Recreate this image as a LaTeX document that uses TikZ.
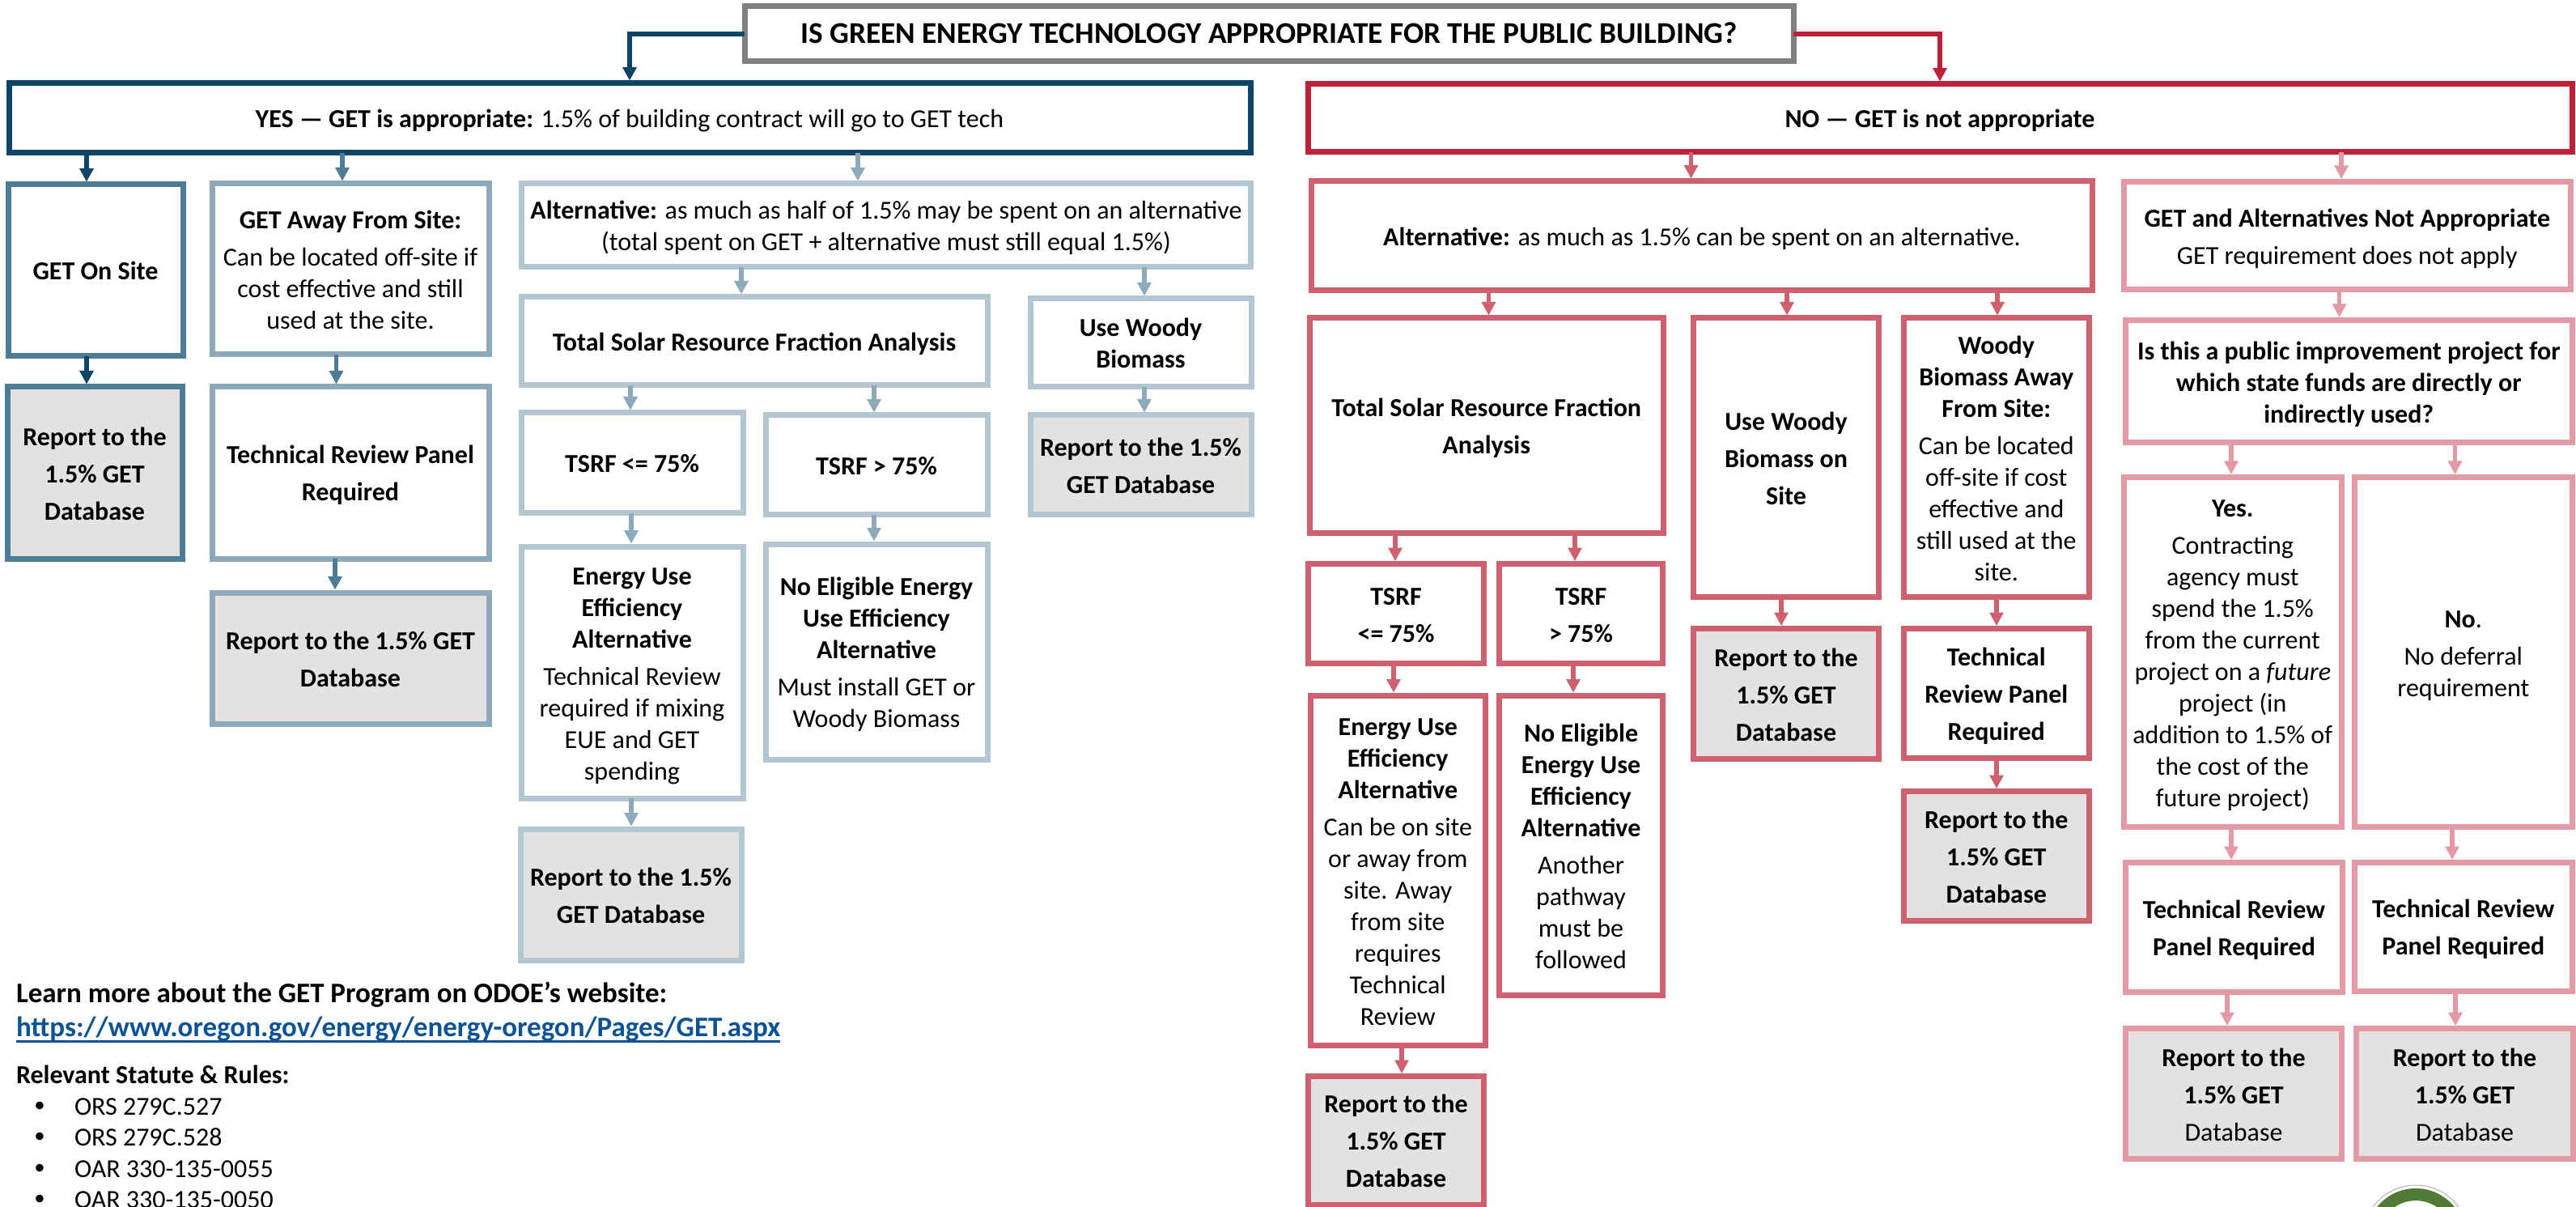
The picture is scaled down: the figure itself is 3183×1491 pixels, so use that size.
\documentclass[tikz,border=0pt]{standalone}
\usepackage{fontspec}
\setmainfont{Carlito}
\usetikzlibrary{arrows.meta}
\definecolor{bA}{HTML}{0E4468}
\definecolor{bB}{HTML}{4E7B96}
\definecolor{bC}{HTML}{8DA9BA}
\definecolor{bD}{HTML}{B3C7D2}
\definecolor{rA}{HTML}{BD2038}
\definecolor{rB}{HTML}{CF6070}
\definecolor{rC}{HTML}{E39AA5}
\definecolor{tg}{HTML}{808080}
\definecolor{gf}{HTML}{E3E2E0}
\definecolor{lk}{HTML}{0B5394}
\definecolor{lg}{HTML}{4F7B37}
\newcommand{\st}{\rule{0pt}{9.2pt}}
\tikzset{
  x=0.3pt,y=-0.3pt,
  sz/.style 2 args={minimum width=#1*0.3pt,minimum height=#2*0.3pt},
  tight/.style={font=\fontsize{9.6}{11.7}\selectfont},
  loose/.style={font=\fontsize{9.6}{13.8}\selectfont},
  bx/.style={draw=#1,fill=white,line width=2.1pt,inner sep=0pt,outer sep=0pt,align=center,text=black,tight,
    execute at end node={\rule[-2pt]{0pt}{2pt}}},
  rp/.style={bx=#1,fill=gf,loose},
  ar/.style={draw=#1,line width=1.6pt,shorten >=1pt,-{Triangle[width=5pt,length=5pt]}},
  tx/.style={inner sep=0pt,outer sep=0pt,anchor=west,text=black,tight},
}
\begin{document}
\begin{tikzpicture}
\clip (0,0) rectangle (3183,1491);
\fill[white] (0,0) rectangle (3183,1491);
% top
\node[bx=tg,sz={1296}{68},font=\fontsize{11.2}{13.6}\selectfont] (title) at (1568,42) {\st\textbf{IS GREEN ENERGY TECHNOLOGY APPROPRIATE FOR THE PUBLIC BUILDING?}};
\node[bx=bA,sz={1534}{86}] (yes) at (778,146) {\st\textbf{YES — GET is appropriate:} 1.5\% of building contract will go to GET tech};
\node[bx=rA,sz={1562}{84}] (no) at (2397,146) {\st\textbf{NO — GET is not appropriate}};
% blue left
\node[bx=bB,sz={216}{212}] (onsite) at (118,334) {\st\textbf{GET On Site}};
\node[rp=bB,sz={216}{212}] (rep1) at (117,584) {\st\textbf{Report to the}\\\textbf{1.5\% GET}\\\textbf{Database}};
\node[bx=bC,sz={342}{211}] (away) at (433,332.5) {\st\textbf{GET Away From Site:}\\[2.1pt]Can be located off-site if\\cost effective and still\\used at the site.};
\node[bx=bC,sz={342}{212},loose] (tech1) at (433,584) {\st\textbf{Technical Review Panel}\\\textbf{Required}};
\node[rp=bC,sz={342}{162}] (rep2) at (433,813) {\st\textbf{Report to the 1.5\% GET}\\\textbf{Database}};
% blue right
\node[bx=bD,sz={901}{103}] (alt) at (1095,278.5) {\st\textbf{Alternative:} as much as half of 1.5\% may be spent on an alternative\\(total spent on GET + alternative must still equal 1.5\%)};
\node[bx=bD,sz={576}{109}] (tsrf) at (932,421.5) {\st\textbf{Total Solar Resource Fraction Analysis}};
\node[bx=bD,sz={273}{109}] (wood) at (1409.5,423.5) {\st\textbf{Use Woody}\\\textbf{Biomass}};
\node[rp=bD,sz={273}{123}] (rep5) at (1409.5,574.5) {\st\textbf{Report to the 1.5\%}\\\textbf{GET Database}};
\node[bx=bD,sz={274}{124}] (le) at (781,572) {\st\textbf{TSRF <= 75\%}};
\node[bx=bD,sz={274}{123}] (gt) at (1083,574.5) {\st\textbf{TSRF > 75\%}};
\node[bx=bD,sz={274}{311}] (eue) at (781,830.5) {\st\textbf{Energy Use}\\\textbf{Efficiency}\\\textbf{Alternative}\\[2.1pt]Technical Review\\required if mixing\\EUE and GET\\spending};
\node[bx=bD,sz={274}{266}] (noel) at (1083,805) {\st\textbf{No Eligible Energy}\\\textbf{Use Efficiency}\\\textbf{Alternative}\\[2.1pt]Must install GET or\\Woody Biomass};
\node[rp=bD,sz={273}{162}] (rep3) at (779.5,1105) {\st\textbf{Report to the 1.5\%}\\\textbf{GET Database}};
% red
\node[bx=rB,sz={965}{135}] (ralt) at (2103,291.5) {\st\textbf{Alternative:} as much as 1.5\% can be spent on an alternative.};
\node[bx=rB,sz={436.5}{266},loose] (rtsrf) at (1836.75,526) {\st\textbf{Total Solar Resource Fraction}\\\textbf{Analysis}};
\node[bx=rB,sz={229}{344.5},loose] (rwood) at (2207,565.25) {\st\textbf{Use Woody}\\\textbf{Biomass on}\\\textbf{Site}};
\node[bx=rB,sz={229.5}{344.5}] (raway) at (2466.75,565.25) {\st\textbf{Woody}\\\textbf{Biomass Away}\\\textbf{From Site:}\\[2.1pt]Can be located\\off-site if cost\\effective and\\still used at the\\site.};
\node[rp=rB,sz={229}{161}] (rrep2) at (2207,857) {\st\textbf{Report to the}\\\textbf{1.5\% GET}\\\textbf{Database}};
\node[bx=rB,sz={229.5}{160},loose] (rtech) at (2466.75,856.5) {\st\textbf{Technical}\\\textbf{Review Panel}\\\textbf{Required}};
\node[rp=rB,sz={229.5}{160}] (rrep3) at (2466.75,1057.5) {\st\textbf{Report to the}\\\textbf{1.5\% GET}\\\textbf{Database}};
\node[bx=rB,sz={217}{123},loose] (rle) at (1725,758) {\st\textbf{TSRF}\\\textbf{<= 75\%}};
\node[bx=rB,sz={202}{123},loose] (rgt) at (1953.5,758) {\st\textbf{TSRF}\\\textbf{> 75\%}};
\node[bx=rB,sz={216.5}{432.5}] (reue) at (1727.25,1075.25) {\st\textbf{Energy Use}\\\textbf{Efficiency}\\\textbf{Alternative}\\[2.1pt]Can be on site\\or away from\\site. Away\\from site\\requires\\Technical\\Review};
\node[bx=rB,sz={202}{370.5}] (rnoel) at (1953.5,1044.25) {\st\textbf{No Eligible}\\\textbf{Energy Use}\\\textbf{Efficiency}\\\textbf{Alternative}\\[2.1pt]Another\\pathway\\must be\\followed};
\node[rp=rB,sz={217}{158.5}] (rrep1) at (1725,1408.75) {\st\textbf{Report to the}\\\textbf{1.5\% GET}\\\textbf{Database}};
% pink
\node[bx=rC,sz={551.5}{133.5},loose] (nap) at (2900.25,291.25) {\st\textbf{GET and Alternatives Not Appropriate}\\GET requirement does not apply};
\node[bx=rC,sz={551.5}{151.5}] (isp) at (2902.25,471.25) {\st\textbf{Is this a public improvement project for}\\\textbf{which state funds are directly or}\\\textbf{indirectly used?}};
\node[bx=rC,sz={268.5}{432}] (pyes) at (2758.75,805.5) {\st\textbf{Yes.}\\[2.1pt]Contracting\\agency must\\spend the 1.5\%\\from the current\\project on a \textit{future}\\project (in\\addition to 1.5\% of\\the cost of the\\future project)};
\node[bx=rC,sz={268.5}{432}] (pno) at (3043.75,805.5) {\st\textbf{No}.\\[2.1pt]No deferral\\requirement};
\node[bx=rC,sz={268}{159.5},loose] (ptech1) at (2760.5,1145.25) {\st\textbf{Technical Review}\\\textbf{Panel Required}};
\node[bx=rC,sz={268.5}{158.5},loose] (ptech2) at (3043.75,1144.75) {\st\textbf{Technical Review}\\\textbf{Panel Required}};
\node[rp=rC,sz={267}{161}] (prep1) at (2760,1351) {\st\textbf{Report to the}\\\textbf{1.5\% GET}\\Database};
\node[rp=rC,sz={268}{161}] (prep2) at (3045.5,1351) {\st\textbf{Report to the}\\\textbf{1.5\% GET}\\Database};
% arrows
\draw[ar=bA,line width=1.7pt] (title.west) -| (yes.north -| 778,0);
\draw[ar=rA,line width=1.7pt] (title.east) -| (no.north -| 2397,0);
\draw[ar=bA] (yes.south -| 107,0) -- (onsite.north -| 107,0);
\draw[ar=bB] (yes.south -| 423,0) -- (away.north -| 423,0);
\draw[ar=bC] (yes.south -| 1060,0) -- (alt.north -| 1060,0);
\draw[ar=bA] (onsite.south -| 107,0) -- (rep1.north -| 107,0);
\draw[ar=bB] (away.south -| 415.5,0) -- (tech1.north -| 415.5,0);
\draw[ar=bB] (tech1.south -| 414,0) -- (rep2.north -| 414,0);
\draw[ar=bC] (alt.south -| 916,0) -- (tsrf.north -| 916,0);
\draw[ar=bC] (alt.south -| 1414,0) -- (wood.north -| 1414,0);
\draw[ar=bC] (tsrf.south -| 779,0) -- (le.north -| 779,0);
\draw[ar=bC] (tsrf.south -| 1080,0) -- (gt.north -| 1080,0);
\draw[ar=bC] (le.south -| 780,0) -- (eue.north -| 780,0);
\draw[ar=bC] (gt.south -| 1080,0) -- (noel.north -| 1080,0);
\draw[ar=bC] (eue.south -| 780,0) -- (rep3.north -| 780,0);
\draw[ar=bC] (wood.south -| 1414,0) -- (rep5.north -| 1414,0);
\draw[ar=rB] (no.south -| 2089.5,0) -- (ralt.north -| 2089.5,0);
\draw[ar=rC] (no.south -| 2893,0) -- (nap.north -| 2893,0);
\draw[ar=rB] (ralt.south -| 1839.5,0) -- (rtsrf.north -| 1839.5,0);
\draw[ar=rB] (ralt.south -| 2208,0) -- (rwood.north -| 2208,0);
\draw[ar=rB] (ralt.south -| 2468,0) -- (raway.north -| 2468,0);
\draw[ar=rB] (rtsrf.south -| 1724,0) -- (rle.north -| 1724,0);
\draw[ar=rB] (rtsrf.south -| 1946,0) -- (rgt.north -| 1946,0);
\draw[ar=rB] (rle.south -| 1722,0) -- (reue.north -| 1722,0);
\draw[ar=rB] (rgt.south -| 1944,0) -- (rnoel.north -| 1944,0);
\draw[ar=rB] (reue.south -| 1732,0) -- (rrep1.north -| 1732,0);
\draw[ar=rB] (rwood.south -| 2201,0) -- (rrep2.north -| 2201,0);
\draw[ar=rB] (raway.south -| 2467,0) -- (rtech.north -| 2467,0);
\draw[ar=rB] (rtech.south -| 2467,0) -- (rrep3.north -| 2467,0);
\draw[ar=rC] (nap.south -| 2890.5,0) -- (isp.north -| 2890.5,0);
\draw[ar=rC] (isp.south -| 2757,0) -- (pyes.north -| 2757,0);
\draw[ar=rC] (isp.south -| 3033.5,0) -- (pno.north -| 3033.5,0);
\draw[ar=rC] (pyes.south -| 2757,0) -- (ptech1.north -| 2757,0);
\draw[ar=rC] (pno.south -| 3030,0) -- (ptech2.north -| 3030,0);
\draw[ar=rC] (ptech1.south -| 2752,0) -- (prep1.north -| 2752,0);
\draw[ar=rC] (ptech2.south -| 3034,0) -- (prep2.north -| 3034,0);
% bottom-left text
\node[tx,font=\fontsize{10.5}{12.8}\selectfont] (learn) at (20,1229) {\textbf{Learn more about the GET Program on ODOE’s website:}};
\node[tx,font=\fontsize{10.5}{12.8}\selectfont,text=lk] (link) at (20,1271) {\textbf{https://www.oregon.gov/energy/energy-oregon/Pages/GET.aspx}};
\draw[lk,line width=0.9pt] (link.south west) -- (link.south east);
\node[tx] (rel) at (20,1327) {\textbf{Relevant Statute \& Rules:}};
\node[tx,anchor=center,font=\fontsize{8}{10}\selectfont] (b1) at (49,1367) {•};
\node[tx] (t1) at (92,1367) {ORS 279C.527};
\node[tx,anchor=center,font=\fontsize{8}{10}\selectfont] (b2) at (49,1405) {•};
\node[tx] (t2) at (92,1405) {ORS 279C.528};
\node[tx,anchor=center,font=\fontsize{8}{10}\selectfont] (b3) at (49,1444) {•};
\node[tx] (t3) at (92,1444) {OAR 330-135-0055};
\node[tx,anchor=center,font=\fontsize{8}{10}\selectfont] (b4) at (49,1482) {•};
\node[tx] (t4) at (92,1482) {OAR 330-135-0050};
% logo
\draw[gray!60,line width=0.3pt] (2985,1529.5) circle[radius=65.5];
\fill[lg,even odd rule] (2985,1529.5) circle[radius=61.5] circle[radius=46.5];
\end{tikzpicture}
\end{document}
